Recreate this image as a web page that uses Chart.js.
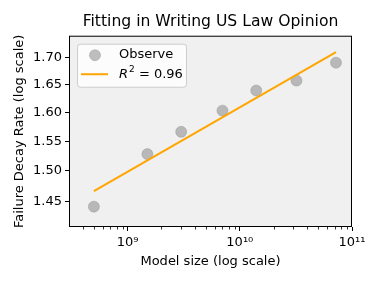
<!DOCTYPE html>
<html>
<head>
<meta charset="utf-8">
<script src="https://cdn.jsdelivr.net/npm/chart.js@4.4.0/dist/chart.umd.min.js"></script>
<style>
  body { margin: 0; background: #ffffff; }
  #grafico { display: block; }
</style>
</head>
<body>
<canvas id="grafico" width="382" height="287"></canvas>
<script>
// tamaños de modelo (parametros) y tasa observada
const modelSizes = [5e8, 1.5e9, 3e9, 7e9, 1.4e10, 3.2e10, 7.2e10];
const decayRates = [1.442, 1.528, 1.566, 1.603, 1.639, 1.657, 1.690];

// recta de ajuste (extremos)
const fitSizes = [5e8, 7.2e10];
const fitRates = [1.467, 1.710];
const r2Text = '0.96';

const xMajorTicks = [1e9, 1e10, 1e11];
const xMinorTicks = [4e8, 5e8, 6e8, 7e8, 8e8, 9e8,
    2e9, 3e9, 4e9, 5e9, 6e9, 7e9, 8e9, 9e9,
    2e10, 3e10, 4e10, 5e10, 6e10, 7e10, 8e10, 9e10];
const yTicks = [1.45, 1.50, 1.55, 1.60, 1.65, 1.70];

const superindice = { '9': '⁹', '10': '¹⁰', '11': '¹¹' };
const fuente = "'DejaVu Sans', sans-serif";

function puntos(xs, ys) {
    return xs.map(function (x, i) { return { x: x, y: ys[i] } });
}

const fondoYMarco = {
    id: 'fondoYMarco',
    beforeDatasetsDraw: function (chart) {
        const a = chart.chartArea;
        const ctx = chart.ctx;
        ctx.save();
        ctx.fillStyle = '#f0f0f0';
        ctx.fillRect(a.left, a.top, a.right - a.left, a.bottom - a.top);
        ctx.restore();
    },
    afterDraw: function (chart) {
        const a = chart.chartArea;
        const ctx = chart.ctx;
        const x = chart.scales.x;
        ctx.save();
        // marco negro
        ctx.strokeStyle = '#000000';
        ctx.lineWidth = 1;
        ctx.strokeRect(a.left + 0.5, a.top + 0.5, a.right - a.left - 1, a.bottom - a.top - 1);
        // ticks menores del eje x
        ctx.beginPath();
        xMinorTicks.forEach(function (v) {
            const px = Math.round(x.getPixelForValue(v)) + 0.5;
            ctx.moveTo(px, a.bottom);
            ctx.lineTo(px, a.bottom + 2.5);
        });
        ctx.lineWidth = 0.8;
        ctx.stroke();

        // leyenda dentro del area
        const lx = a.left + 8, ly = a.top + 8, lw = 109, lh = 43;
        ctx.beginPath();
        ctx.roundRect(lx + 0.5, ly + 0.5, lw, lh, 3);
        ctx.fillStyle = 'rgba(255,255,255,0.8)';
        ctx.fill();
        ctx.strokeStyle = '#cccccc';
        ctx.lineWidth = 1;
        ctx.stroke();

        const ds = chart.data.datasets;
        ctx.beginPath();
        ctx.arc(lx + 18, ly + 11.5, 5.5, 0, Math.PI * 2);
        ctx.fillStyle = ds[0].backgroundColor;
        ctx.fill();
        ctx.strokeStyle = ds[0].borderColor;
        ctx.lineWidth = 1;
        ctx.stroke();

        ctx.beginPath();
        ctx.moveTo(lx + 4, ly + 30.5);
        ctx.lineTo(lx + 31, ly + 30.5);
        ctx.strokeStyle = ds[1].borderColor;
        ctx.lineWidth = 2;
        ctx.stroke();

        ctx.fillStyle = '#000000';
        ctx.textBaseline = 'middle';
        ctx.textAlign = 'left';
        ctx.font = '13px ' + fuente;
        ctx.fillText(ds[0].label, lx + 42, ly + 11);
        // R^2 = 0.96
        let tx = lx + 42;
        ctx.font = 'italic 13px ' + fuente;
        ctx.fillText('R', tx, ly + 31);
        tx += ctx.measureText('R').width + 1;
        ctx.font = '9px ' + fuente;
        ctx.fillText('2', tx, ly + 26);
        tx += ctx.measureText('2').width;
        ctx.font = '13px ' + fuente;
        ctx.fillText(' = ' + r2Text, tx, ly + 31);
        ctx.restore();
    }
};

const config = {
    type: 'scatter',
    data: {
        datasets: [{
            label: 'Observe',
            data: puntos(modelSizes, decayRates),
            backgroundColor: 'rgba(128,128,128,0.5)',
            borderColor: 'rgba(128,128,128,0.35)',
            borderWidth: 1,
            pointRadius: 5.5,
            order: 1
        }, {
            label: 'R^2 = ' + r2Text,
            data: puntos(fitSizes, fitRates),
            showLine: true,
            borderColor: '#ffa500',
            backgroundColor: '#ffa500',
            borderWidth: 2,
            pointRadius: 0,
            order: 0
        }]
    },
    options: {
        responsive: false,
        animation: false,
        events: [],
        layout: { padding: { left: 0, right: 30, top: 0, bottom: 0 } },
        plugins: {
            legend: { display: false },
            tooltip: { enabled: false },
            title: {
                display: true,
                text: 'Fitting in Writing US Law Opinion',
                fullSize: false,
                color: '#000000',
                font: { family: fuente, size: 15.6, weight: 'normal' },
                padding: { top: 13, bottom: 4 }
            }
        },
        scales: {
            x: {
                type: 'logarithmic',
                min: 3e8,
                max: 1e11,
                afterBuildTicks: function (scale) {
                    scale.ticks = xMajorTicks.map(function (v) { return { value: v } });
                },
                afterFit: function (scale) { scale.height = 60; },
                ticks: {
                    autoSkip: false,
                    maxRotation: 0,
                    padding: 4,
                    color: '#000000',
                    font: { family: fuente, size: 13 },
                    callback: function (v) {
                        const e = Math.round(Math.log10(v));
                        return '10' + superindice[e];
                    }
                },
                grid: {
                    drawOnChartArea: false,
                    drawTicks: true,
                    tickLength: 4,
                    tickColor: '#000000',
                    tickWidth: 1
                },
                border: { display: false },
                title: {
                    display: true,
                    text: 'Model size (log scale)',
                    color: '#000000',
                    font: { family: fuente, size: 13 },
                    padding: { top: 4, bottom: 18 }
                }
            },
            y: {
                type: 'logarithmic',
                min: 1.414,
                max: 1.741,
                afterBuildTicks: function (scale) {
                    scale.ticks = yTicks.map(function (v) { return { value: v } });
                },
                afterFit: function (scale) { scale.width = 69; },
                ticks: {
                    autoSkip: false,
                    padding: 3,
                    color: '#000000',
                    font: { family: fuente, size: 13 },
                    callback: function (v) { return v.toFixed(2); }
                },
                grid: {
                    drawOnChartArea: false,
                    drawTicks: true,
                    tickLength: 4,
                    tickColor: '#000000',
                    tickWidth: 1
                },
                border: { display: false },
                title: {
                    display: true,
                    text: 'Failure Decay Rate (log scale)',
                    color: '#000000',
                    font: { family: fuente, size: 13 },
                    padding: { top: 12, bottom: 4 }
                }
            }
        }
    },
    plugins: [fondoYMarco]
};

const myChart = new Chart(document.getElementById('grafico'), config);
</script>
</body>
</html>
